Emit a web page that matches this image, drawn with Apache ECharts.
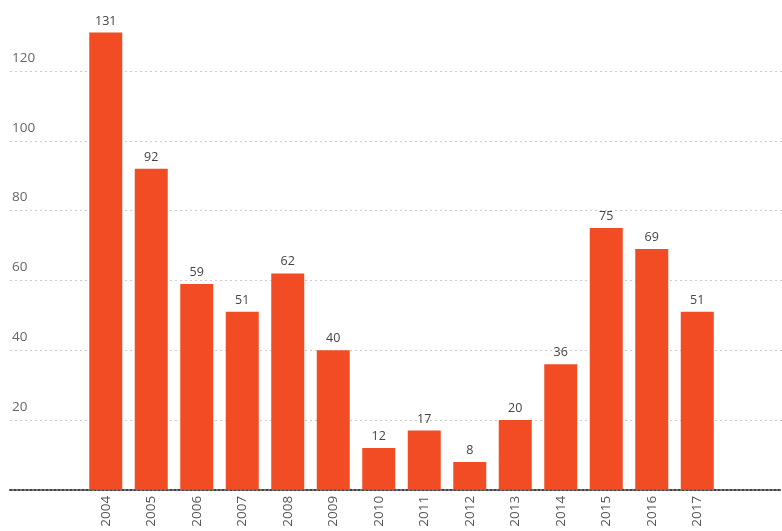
<!DOCTYPE html>
<html>
<head>
<meta charset="utf-8">
<script src="https://cdn.jsdelivr.net/npm/echarts@6/dist/echarts.min.js"></script>
<style>html,body{margin:0;padding:0;background:#fff}#c{width:782px;height:531px}</style>
</head>
<body>
<div id="c"></div>
<script>
var categories = ['2004','2005','2006','2007','2008','2009','2010','2011','2012','2013','2014','2015','2016','2017'];
var values = [131, 92, 59, 51, 62, 40, 12, 17, 8, 20, 36, 75, 69, 51];
var yTicks = [0, 20, 40, 60, 80, 100, 120, 140];

(function () {
var font = 'Open Sans';
var gTop = 1.2, gBottom = 41.2;
var chart = echarts.init(document.getElementById('c'));
chart.setOption({
  animation: false,
  grid: [
    {left: 10, right: 0, top: gTop, bottom: gBottom},
    {left: 83, right: 62, top: gTop, bottom: gBottom}
  ],
  xAxis: [
    {gridIndex: 0, type: 'value', min: 0, max: 1, show: true,
     axisLine: {show: true, lineStyle: {color: '#444', type: [2, 2], width: 2}},
     axisTick: {show: false}, axisLabel: {show: false}, splitLine: {show: false}},
    {gridIndex: 1, type: 'category', data: categories,
     axisLine: {show: false}, axisTick: {show: false},
     axisLabel: {rotate: 90, margin: 6, fontSize: 13.5, color: '#555', fontFamily: font}}
  ],
  yAxis: [
    {gridIndex: 0, type: 'value', min: yTicks[0], max: yTicks[yTicks.length - 1], interval: 20,
     axisLine: {show: false}, axisTick: {show: false},
     axisLabel: {inside: true, margin: 2, verticalAlign: 'bottom', padding: [0, 0, 6, 0],
       fontSize: 13.5, color: '#666', fontFamily: font,
       formatter: function (v) { return (v === 0 || v === 140) ? '' : String(v); }},
     splitLine: {show: true, lineStyle: {color: ['transparent', '#ccc', '#ccc', '#ccc', '#ccc', '#ccc', '#ccc', 'transparent'], type: [2, 3], width: 1}}},
    {gridIndex: 1, type: 'value', min: yTicks[0], max: yTicks[yTicks.length - 1], interval: 20, show: false}
  ],
  series: [{
    type: 'bar', xAxisIndex: 1, yAxisIndex: 1, data: values,
    barWidth: 33,
    itemStyle: {color: '#F14C23'},
    label: {show: true, position: 'top', distance: 5, fontSize: 12.5, color: '#444', fontFamily: font}
  }]
});
})();
</script>
</body>
</html>
